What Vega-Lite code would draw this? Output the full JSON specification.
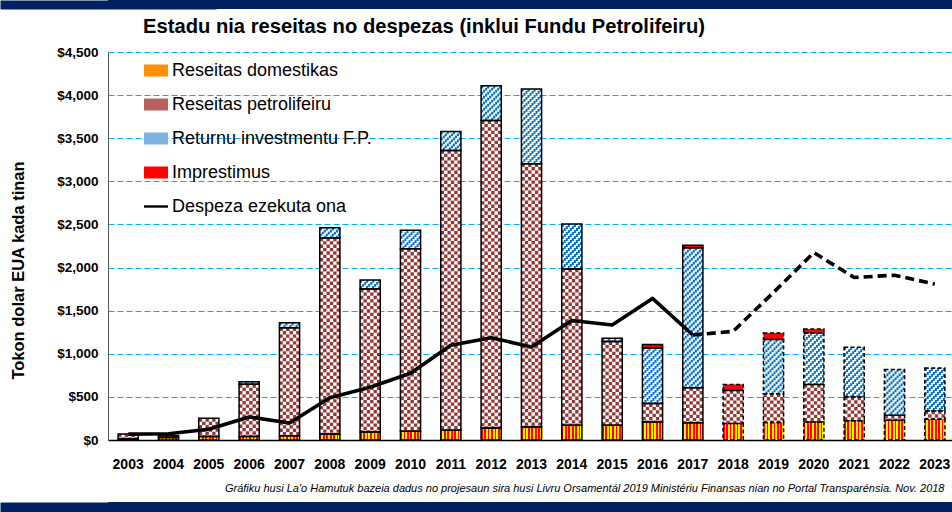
{
  "$schema": "https://vega.github.io/schema/vega-lite/v6.json",
  "background": "white",
  "padding": 0,
  "spacing": 8,
  "config": {"view": {"stroke": null}},
  "resolve": {"scale": {"fill": "independent", "shape": "independent"}, "legend": {"fill": "independent", "shape": "independent"}},
  "datasets": {
    "bars": [
      {"year": 2003, "series": "Reseitas domestikas", "value": 12},
      {"year": 2003, "series": "Reseitas petrolifeiru", "value": 58},
      {"year": 2004, "series": "Reseitas domestikas", "value": 28},
      {"year": 2004, "series": "Reseitas petrolifeiru", "value": 20},
      {"year": 2005, "series": "Reseitas domestikas", "value": 40},
      {"year": 2005, "series": "Reseitas petrolifeiru", "value": 211},
      {"year": 2006, "series": "Reseitas domestikas", "value": 40},
      {"year": 2006, "series": "Reseitas petrolifeiru", "value": 606},
      {"year": 2006, "series": "Returnu investmentu F.P.", "value": 30},
      {"year": 2007, "series": "Reseitas domestikas", "value": 48},
      {"year": 2007, "series": "Reseitas petrolifeiru", "value": 1254},
      {"year": 2007, "series": "Returnu investmentu F.P.", "value": 57},
      {"year": 2008, "series": "Reseitas domestikas", "value": 71},
      {"year": 2008, "series": "Reseitas petrolifeiru", "value": 2273},
      {"year": 2008, "series": "Returnu investmentu F.P.", "value": 119},
      {"year": 2009, "series": "Reseitas domestikas", "value": 94},
      {"year": 2009, "series": "Reseitas petrolifeiru", "value": 1656},
      {"year": 2009, "series": "Returnu investmentu F.P.", "value": 107},
      {"year": 2010, "series": "Reseitas domestikas", "value": 101},
      {"year": 2010, "series": "Reseitas petrolifeiru", "value": 2117},
      {"year": 2010, "series": "Returnu investmentu F.P.", "value": 214},
      {"year": 2011, "series": "Reseitas domestikas", "value": 113},
      {"year": 2011, "series": "Reseitas petrolifeiru", "value": 3246},
      {"year": 2011, "series": "Returnu investmentu F.P.", "value": 219},
      {"year": 2012, "series": "Reseitas domestikas", "value": 140},
      {"year": 2012, "series": "Reseitas petrolifeiru", "value": 3565},
      {"year": 2012, "series": "Returnu investmentu F.P.", "value": 405},
      {"year": 2013, "series": "Reseitas domestikas", "value": 150},
      {"year": 2013, "series": "Reseitas petrolifeiru", "value": 3055},
      {"year": 2013, "series": "Returnu investmentu F.P.", "value": 866},
      {"year": 2014, "series": "Reseitas domestikas", "value": 170},
      {"year": 2014, "series": "Reseitas petrolifeiru", "value": 1814},
      {"year": 2014, "series": "Returnu investmentu F.P.", "value": 520},
      {"year": 2015, "series": "Reseitas domestikas", "value": 171},
      {"year": 2015, "series": "Reseitas petrolifeiru", "value": 970},
      {"year": 2015, "series": "Returnu investmentu F.P.", "value": 39},
      {"year": 2016, "series": "Reseitas domestikas", "value": 210},
      {"year": 2016, "series": "Reseitas petrolifeiru", "value": 212},
      {"year": 2016, "series": "Returnu investmentu F.P.", "value": 646},
      {"year": 2016, "series": "Imprestimus", "value": 39},
      {"year": 2017, "series": "Reseitas domestikas", "value": 199},
      {"year": 2017, "series": "Reseitas petrolifeiru", "value": 407},
      {"year": 2017, "series": "Returnu investmentu F.P.", "value": 1625},
      {"year": 2017, "series": "Imprestimus", "value": 27},
      {"year": 2018, "series": "Reseitas domestikas", "value": 190},
      {"year": 2018, "series": "Reseitas petrolifeiru", "value": 385},
      {"year": 2018, "series": "Imprestimus", "value": 70},
      {"year": 2019, "series": "Reseitas domestikas", "value": 203},
      {"year": 2019, "series": "Reseitas petrolifeiru", "value": 334},
      {"year": 2019, "series": "Returnu investmentu F.P.", "value": 628},
      {"year": 2019, "series": "Imprestimus", "value": 77},
      {"year": 2020, "series": "Reseitas domestikas", "value": 210},
      {"year": 2020, "series": "Reseitas petrolifeiru", "value": 435},
      {"year": 2020, "series": "Returnu investmentu F.P.", "value": 596},
      {"year": 2020, "series": "Imprestimus", "value": 47},
      {"year": 2021, "series": "Reseitas domestikas", "value": 222},
      {"year": 2021, "series": "Reseitas petrolifeiru", "value": 277},
      {"year": 2021, "series": "Returnu investmentu F.P.", "value": 577},
      {"year": 2022, "series": "Reseitas domestikas", "value": 229},
      {"year": 2022, "series": "Reseitas petrolifeiru", "value": 58},
      {"year": 2022, "series": "Returnu investmentu F.P.", "value": 531},
      {"year": 2023, "series": "Reseitas domestikas", "value": 240},
      {"year": 2023, "series": "Reseitas petrolifeiru", "value": 97},
      {"year": 2023, "series": "Returnu investmentu F.P.", "value": 497}
    ],
    "spend": [
      {"year": 2003, "series": "Despeza ezekuta ona", "value": 68},
      {"year": 2004, "series": "Despeza ezekuta ona", "value": 72},
      {"year": 2005, "series": "Despeza ezekuta ona", "value": 125},
      {"year": 2006, "series": "Despeza ezekuta ona", "value": 267},
      {"year": 2007, "series": "Despeza ezekuta ona", "value": 198},
      {"year": 2008, "series": "Despeza ezekuta ona", "value": 489},
      {"year": 2009, "series": "Despeza ezekuta ona", "value": 612},
      {"year": 2010, "series": "Despeza ezekuta ona", "value": 775},
      {"year": 2011, "series": "Despeza ezekuta ona", "value": 1098},
      {"year": 2012, "series": "Despeza ezekuta ona", "value": 1187},
      {"year": 2013, "series": "Despeza ezekuta ona", "value": 1079},
      {"year": 2014, "series": "Despeza ezekuta ona", "value": 1386},
      {"year": 2015, "series": "Despeza ezekuta ona", "value": 1334},
      {"year": 2016, "series": "Despeza ezekuta ona", "value": 1642},
      {"year": 2017, "series": "Despeza ezekuta ona", "value": 1218},
      {"year": 2018, "series": "Despeza ezekuta ona", "value": 1261},
      {"year": 2019, "series": "Despeza ezekuta ona", "value": 1711},
      {"year": 2020, "series": "Despeza ezekuta ona", "value": 2173},
      {"year": 2021, "series": "Despeza ezekuta ona", "value": 1885},
      {"year": 2022, "series": "Despeza ezekuta ona", "value": 1911},
      {"year": 2023, "series": "Despeza ezekuta ona", "value": 1808}
    ],
    "band": [{"k": 0}]
  },
  "vconcat": [
    {
      "width": 847,
      "height": 9,
      "view": {"fill": "#002060", "stroke": null},
      "data": {"name": "band"},
      "mark": {"type": "point", "opacity": 0},
      "encoding": {
        "y": {"field": "k", "type": "quantitative", "axis": {"title": "x", "titleColor": "#002060", "titleFontSize": 8, "titleX": -108, "titleY": 4.5, "titleAngle": 0, "titleAlign": "left", "titleBaseline": "middle", "labels": false, "ticks": false, "grid": false, "domainColor": "#002060", "domainWidth": 216, "domainCap": "butt"}}
      }
    },
    {
      "width": 847,
      "height": 388,
      "title": {"text": "Estadu nia reseitas no despezas (inklui Fundu Petrolifeiru)", "anchor": "start", "frame": "group", "dx": 35, "offset": 7.5, "font": "Liberation Sans, Arial, sans-serif", "fontWeight": "bold", "fontSize": 20.2, "color": "black"},
      "layer": [
        {
          "data": {"name": "bars"},
          "transform": [
            {"calculate": "indexof(['Reseitas domestikas','Reseitas petrolifeiru','Returnu investmentu F.P.','Imprestimus'], datum.series)", "as": "ord"},
            {"stack": "value", "groupby": ["year"], "sort": [{"field": "ord", "order": "ascending"}], "as": ["v0", "v1"]}
          ],
          "encoding": {
            "x": {"field": "year", "type": "ordinal", "scale": {"paddingInner": 0.5, "paddingOuter": 0.25},
              "title": "Gráfiku husi La'o Hamutuk bazeia dadus no projesaun sira husi Livru Orsamentál 2019 Ministériu Finansas nian no Portal Transparénsia.  Nov. 2018",
              "axis": {"labelAngle": 0, "labelFont": "Liberation Sans, Arial, sans-serif", "labelFontWeight": "bold", "labelFontSize": 14, "labelColor": "black", "labelPadding": 17.5, "ticks": false, "domainColor": "black", "domainWidth": 1.5,
                "titleFont": "Liberation Sans, Arial, sans-serif", "titleFontStyle": "italic", "titleFontWeight": "normal", "titleFontSize": 11, "titleColor": "black", "titleAnchor": "end", "titleAlign": "right", "titleX": 836, "titlePadding": 11}},
            "y": {"field": "v1", "type": "quantitative", "scale": {"domain": [0, 4500], "nice": false}, "title": "Tokon dolar EUA kada tinan",
              "axis": {"values": [0, 500, 1000, 1500, 2000, 2500, 3000, 3500, 4000, 4500], "format": "$,d", "labelFont": "Liberation Sans, Arial, sans-serif", "labelFontWeight": "bold", "labelFontSize": 13.5, "labelColor": "black", "labelPadding": 10, "ticks": false, "domainColor": "#595959", "domainWidth": 1, "gridColor": "#00B0F0", "gridDash": [6, 3], "gridWidth": 1,
                "titleFont": "Liberation Sans, Arial, sans-serif", "titleFontWeight": "bold", "titleFontSize": 16.5, "titleColor": "black", "titleX": -90, "titleY": 218, "titleAngle": -90, "titleBaseline": "middle", "titleAlign": "center"}},
            "y2": {"field": "v0"}
          },
          "layer": [
            {"mark": {"type": "bar", "fill": "#FFFFFF"}},
            {"transform": [{"filter": "datum.series === 'Imprestimus'"}], "mark": {"type": "bar", "fill": "#FF0000"}},
            {"transform": [{"filter": "datum.series === 'Reseitas domestikas'"}],
              "mark": {"type": "bar", "fill": {"gradient": "linear", "x1": 0, "y1": 0, "x2": 1, "y2": 0, "stops": [
                {"offset": 0, "color": "#FF0000"}, {"offset": 0.0833, "color": "#FF0000"}, {"offset": 0.0833, "color": "#FFF200"}, {"offset": 0.1667, "color": "#FFF200"},
                {"offset": 0.1667, "color": "#FF0000"}, {"offset": 0.25, "color": "#FF0000"}, {"offset": 0.25, "color": "#FFF200"}, {"offset": 0.3333, "color": "#FFF200"},
                {"offset": 0.3333, "color": "#FF0000"}, {"offset": 0.4167, "color": "#FF0000"}, {"offset": 0.4167, "color": "#FFF200"}, {"offset": 0.5, "color": "#FFF200"},
                {"offset": 0.5, "color": "#FF0000"}, {"offset": 0.5833, "color": "#FF0000"}, {"offset": 0.5833, "color": "#FFF200"}, {"offset": 0.6667, "color": "#FFF200"},
                {"offset": 0.6667, "color": "#FF0000"}, {"offset": 0.75, "color": "#FF0000"}, {"offset": 0.75, "color": "#FFF200"}, {"offset": 0.8333, "color": "#FFF200"},
                {"offset": 0.8333, "color": "#FF0000"}, {"offset": 0.9167, "color": "#FF0000"}, {"offset": 0.9167, "color": "#FFF200"}, {"offset": 1, "color": "#FFF200"}]}}},
            {"transform": [{"filter": "datum.series === 'Reseitas petrolifeiru'"}], "mark": {"type": "rule", "stroke": "#953735", "strokeWidth": 3.36, "strokeDash": [3.36, 3.36], "strokeDashOffset": 0, "xOffset": -8.4}},
            {"transform": [{"filter": "datum.series === 'Reseitas petrolifeiru'"}], "mark": {"type": "rule", "stroke": "#953735", "strokeWidth": 3.36, "strokeDash": [3.36, 3.36], "strokeDashOffset": 3.36, "xOffset": -5.04}},
            {"transform": [{"filter": "datum.series === 'Reseitas petrolifeiru'"}], "mark": {"type": "rule", "stroke": "#953735", "strokeWidth": 3.36, "strokeDash": [3.36, 3.36], "strokeDashOffset": 0, "xOffset": -1.68}},
            {"transform": [{"filter": "datum.series === 'Reseitas petrolifeiru'"}], "mark": {"type": "rule", "stroke": "#953735", "strokeWidth": 3.36, "strokeDash": [3.36, 3.36], "strokeDashOffset": 3.36, "xOffset": 1.68}},
            {"transform": [{"filter": "datum.series === 'Reseitas petrolifeiru'"}], "mark": {"type": "rule", "stroke": "#953735", "strokeWidth": 3.36, "strokeDash": [3.36, 3.36], "strokeDashOffset": 0, "xOffset": 5.04}},
            {"transform": [{"filter": "datum.series === 'Reseitas petrolifeiru'"}], "mark": {"type": "rule", "stroke": "#953735", "strokeWidth": 3.36, "strokeDash": [3.36, 3.36], "strokeDashOffset": 3.36, "xOffset": 8.4}},
            {"transform": [{"filter": "datum.series === 'Returnu investmentu F.P.'"}], "mark": {"type": "rule", "stroke": "#0070C0", "strokeWidth": 2.02, "strokeDash": [2.8, 3.2], "strokeDashOffset": 0, "xOffset": -9.08}},
            {"transform": [{"filter": "datum.series === 'Returnu investmentu F.P.'"}], "mark": {"type": "rule", "stroke": "#0070C0", "strokeWidth": 2.02, "strokeDash": [2.8, 3.2], "strokeDashOffset": 2, "xOffset": -7.06}},
            {"transform": [{"filter": "datum.series === 'Returnu investmentu F.P.'"}], "mark": {"type": "rule", "stroke": "#0070C0", "strokeWidth": 2.02, "strokeDash": [2.8, 3.2], "strokeDashOffset": 4, "xOffset": -5.04}},
            {"transform": [{"filter": "datum.series === 'Returnu investmentu F.P.'"}], "mark": {"type": "rule", "stroke": "#0070C0", "strokeWidth": 2.02, "strokeDash": [2.8, 3.2], "strokeDashOffset": 0, "xOffset": -3.03}},
            {"transform": [{"filter": "datum.series === 'Returnu investmentu F.P.'"}], "mark": {"type": "rule", "stroke": "#0070C0", "strokeWidth": 2.02, "strokeDash": [2.8, 3.2], "strokeDashOffset": 2, "xOffset": -1.01}},
            {"transform": [{"filter": "datum.series === 'Returnu investmentu F.P.'"}], "mark": {"type": "rule", "stroke": "#0070C0", "strokeWidth": 2.02, "strokeDash": [2.8, 3.2], "strokeDashOffset": 4, "xOffset": 1.01}},
            {"transform": [{"filter": "datum.series === 'Returnu investmentu F.P.'"}], "mark": {"type": "rule", "stroke": "#0070C0", "strokeWidth": 2.02, "strokeDash": [2.8, 3.2], "strokeDashOffset": 0, "xOffset": 3.03}},
            {"transform": [{"filter": "datum.series === 'Returnu investmentu F.P.'"}], "mark": {"type": "rule", "stroke": "#0070C0", "strokeWidth": 2.02, "strokeDash": [2.8, 3.2], "strokeDashOffset": 2, "xOffset": 5.04}},
            {"transform": [{"filter": "datum.series === 'Returnu investmentu F.P.'"}], "mark": {"type": "rule", "stroke": "#0070C0", "strokeWidth": 2.02, "strokeDash": [2.8, 3.2], "strokeDashOffset": 4, "xOffset": 7.06}},
            {"transform": [{"filter": "datum.series === 'Returnu investmentu F.P.'"}], "mark": {"type": "rule", "stroke": "#0070C0", "strokeWidth": 2.02, "strokeDash": [2.8, 3.2], "strokeDashOffset": 0, "xOffset": 9.08}},
            {"transform": [{"filter": "datum.year <= 2017"}], "mark": {"type": "bar", "fill": "transparent", "stroke": "#000000", "strokeWidth": 1.5}},
            {"transform": [{"filter": "datum.year >= 2018"}], "mark": {"type": "bar", "fill": "transparent", "stroke": "#000000", "strokeWidth": 1.5, "strokeDash": [4, 2.5]}}
          ]
        },
        {
          "data": {"name": "spend"},
          "encoding": {
            "x": {"field": "year", "type": "ordinal", "title": "Gráfiku husi La'o Hamutuk bazeia dadus no projesaun sira husi Livru Orsamentál 2019 Ministériu Finansas nian no Portal Transparénsia.  Nov. 2018"},
            "y": {"field": "value", "type": "quantitative", "title": "Tokon dolar EUA kada tinan"}
          },
          "layer": [
            {"transform": [{"filter": "datum.year <= 2017"}], "mark": {"type": "line", "stroke": "#000000", "strokeWidth": 3.6, "strokeJoin": "round"}},
            {"transform": [{"filter": "datum.year >= 2017"}], "mark": {"type": "line", "stroke": "#000000", "strokeWidth": 3.6, "strokeDash": [9, 5]}},
            {"mark": {"type": "point", "opacity": 0, "filled": true, "stroke": "#000000", "strokeWidth": 1.2},
              "encoding": {
                "fill": {"field": "series", "type": "nominal",
                  "scale": {"domain": ["Reseitas domestikas", "Reseitas petrolifeiru", "Returnu investmentu F.P.", "Imprestimus", "Despeza ezekuta ona"],
                    "range": ["#FF9000", "#B4615F", "#7DB3E0", "#FF0000", "#000000"]},
                  "legend": {"orient": "none", "legendX": 35, "legendY": 5.5, "title": null, "padding": 0, "rowPadding": 12, "labelFont": "Liberation Sans, Arial, sans-serif", "labelFontSize": 18, "labelColor": "black", "labelOffset": 3, "labelLimit": 500, "symbolSize": 576, "symbolOpacity": 1, "symbolStrokeColor": "#000000", "symbolStrokeWidth": 1.2}},
                "shape": {"field": "series", "type": "nominal",
                  "scale": {"domain": ["Reseitas domestikas", "Reseitas petrolifeiru", "Returnu investmentu F.P.", "Imprestimus", "Despeza ezekuta ona"],
                    "range": ["M-1,-0.5H1V0.5H-1Z", "M-1,-0.5H1V0.5H-1Z", "M-1,-0.5H1V0.5H-1Z", "M-1,-0.5H1V0.5H-1Z", "M-1,-0.1H1V0.1H-1Z"]},
                  "legend": {"orient": "none", "legendX": 35, "legendY": 5.5, "title": null, "padding": 0, "rowPadding": 12, "labelFont": "Liberation Sans, Arial, sans-serif", "labelFontSize": 18, "labelColor": "black", "labelOffset": 3, "labelLimit": 500, "symbolSize": 576, "symbolOpacity": 1, "symbolStrokeColor": "#000000", "symbolStrokeWidth": 1.2}}
              }}
          ]
        }
      ]
    },
    {
      "width": 847,
      "height": 14,
      "view": {"fill": "#002060", "stroke": null},
      "data": {"name": "band"},
      "mark": {"type": "point", "opacity": 0},
      "encoding": {
        "y": {"field": "k", "type": "quantitative", "axis": {"title": null, "labels": false, "ticks": false, "grid": false, "domainColor": "#002060", "domainWidth": 216, "domainCap": "butt"}}
      }
    }
  ]
}
